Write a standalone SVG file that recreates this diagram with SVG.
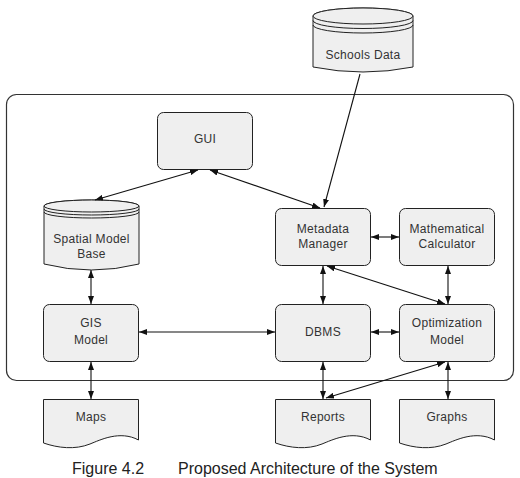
<svg xmlns="http://www.w3.org/2000/svg" width="520" height="478" viewBox="0 0 520 478">
<defs>
<style>
.box{fill:#efefef;stroke:#222;stroke-width:1}
.t{font-family:"Liberation Sans",Arial,sans-serif;font-size:12px;letter-spacing:0.3px;fill:#333;text-anchor:middle}
.cap{font-family:"Liberation Sans",Arial,sans-serif;font-size:16px;fill:#222}
.c{fill:none;stroke:#111;stroke-width:1.1}
.arc{fill:none;stroke:#222;stroke-width:1}
</style>
<marker id="ah" viewBox="0 0 8 6" refX="8" refY="3" markerWidth="8" markerHeight="6" markerUnits="userSpaceOnUse" orient="auto-start-reverse">
<path d="M0,0 L8,3 L0,6 Z" fill="#111"/>
</marker>
</defs>
<rect width="520" height="478" fill="#fff"/>
<rect x="6.5" y="94.5" width="507" height="286" rx="10" fill="none" stroke="#333" stroke-width="1.2"/>

<g id="schools-data">
<path class="box" d="M313,16 A50,8 0 0 1 413,16 V67 Q363,77 313,67 Z"/>
<ellipse class="box" cx="363" cy="16" rx="50" ry="8"/>
<path class="arc" d="M313,20.5 A50,8 0 0 0 413,20.5"/>
<path class="arc" d="M313,25 A50,8 0 0 0 413,25"/>
<text class="t" x="363" y="59">Schools Data</text>
</g>

<g id="gui">
<rect class="box" x="157.5" y="112.5" width="95" height="57" rx="6"/>
<text class="t" x="205" y="143">GUI</text>
</g>

<g id="spatial-model-base">
<path class="box" d="M44,206 A47.5,6 0 0 1 139,206 V264 Q91.5,276 44,264 Z"/>
<ellipse class="box" cx="91.5" cy="206" rx="47.5" ry="6"/>
<path class="arc" d="M44,209 A47.5,6 0 0 0 139,209"/>
<path class="arc" d="M44,212 A47.5,6 0 0 0 139,212"/>
<text class="t" x="91.5" y="243">Spatial Model</text>
<text class="t" x="91.5" y="258">Base</text>
</g>

<g id="metadata-manager">
<rect class="box" x="275.5" y="208.5" width="95" height="57" rx="6"/>
<text class="t" x="323" y="233">Metadata</text>
<text class="t" x="323" y="248">Manager</text>
</g>

<g id="mathematical-calculator">
<rect class="box" x="399.5" y="208.5" width="95" height="57" rx="6"/>
<text class="t" x="447" y="233">Mathematical</text>
<text class="t" x="447" y="248">Calculator</text>
</g>

<g id="gis-model">
<rect class="box" x="43.5" y="304.5" width="95" height="57" rx="6"/>
<text class="t" x="91" y="327">GIS</text>
<text class="t" x="91" y="344">Model</text>
</g>

<g id="dbms">
<rect class="box" x="275.5" y="304.5" width="95" height="57" rx="6"/>
<text class="t" x="323" y="336">DBMS</text>
</g>

<g id="optimization-model">
<rect class="box" x="399.5" y="304.5" width="95" height="57" rx="6"/>
<text class="t" x="447" y="327">Optimization</text>
<text class="t" x="447" y="344">Model</text>
</g>

<g id="maps">
<path class="box" d="M43.5,399.5 H138.5 V440 C120,430 100,440 90,444 C75,450 58,448 43.5,443 Z"/>
<text class="t" x="91" y="421">Maps</text>
</g>

<g id="reports">
<path class="box" d="M275.5,399.5 H370.5 V440 C352,430 332,440 322,444 C307,450 290,448 275.5,443 Z"/>
<text class="t" x="323" y="421">Reports</text>
</g>

<g id="graphs">
<path class="box" d="M399.5,399.5 H494.5 V440 C476,430 456,440 446,444 C431,450 414,448 399.5,443 Z"/>
<text class="t" x="447" y="421">Graphs</text>
</g>

<g id="connectors">
<line class="c" x1="360" y1="74" x2="324" y2="207" marker-end="url(#ah)"/>
<line class="c" x1="198" y1="170" x2="95" y2="200" marker-start="url(#ah)" marker-end="url(#ah)"/>
<line class="c" x1="210" y1="170" x2="320" y2="208" marker-start="url(#ah)" marker-end="url(#ah)"/>
<line class="c" x1="91" y1="270" x2="91" y2="304" marker-start="url(#ah)" marker-end="url(#ah)"/>
<line class="c" x1="371" y1="237" x2="399" y2="237" marker-start="url(#ah)" marker-end="url(#ah)"/>
<line class="c" x1="323" y1="266" x2="323" y2="304" marker-start="url(#ah)" marker-end="url(#ah)"/>
<line class="c" x1="327" y1="266" x2="445" y2="304" marker-start="url(#ah)" marker-end="url(#ah)"/>
<line class="c" x1="448" y1="266" x2="448" y2="304" marker-start="url(#ah)" marker-end="url(#ah)"/>
<line class="c" x1="139" y1="332" x2="275" y2="332" marker-start="url(#ah)" marker-end="url(#ah)"/>
<line class="c" x1="371" y1="332" x2="399" y2="332" marker-start="url(#ah)" marker-end="url(#ah)"/>
<line class="c" x1="91" y1="362" x2="91" y2="399" marker-start="url(#ah)" marker-end="url(#ah)"/>
<line class="c" x1="323" y1="362" x2="323" y2="399" marker-start="url(#ah)" marker-end="url(#ah)"/>
<line class="c" x1="445" y1="362" x2="326" y2="398" marker-start="url(#ah)" marker-end="url(#ah)"/>
<line class="c" x1="448" y1="362" x2="448" y2="399" marker-start="url(#ah)" marker-end="url(#ah)"/>
</g>

<text class="cap" x="72" y="474">Figure 4.2</text>
<text class="cap" x="178" y="474">Proposed Architecture of the System</text>
</svg>
